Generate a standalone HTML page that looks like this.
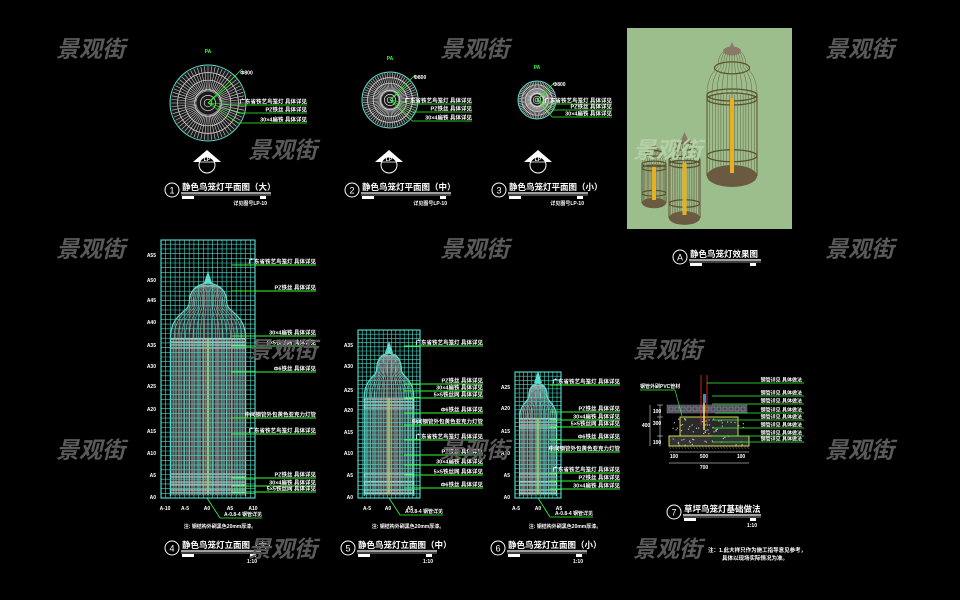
<!DOCTYPE html>
<html><head><meta charset="utf-8"><style>
html,body{margin:0;padding:0;background:#000;width:960px;height:600px;overflow:hidden}
svg{display:block}
text{font-family:"Liberation Sans","Noto Sans CJK SC",sans-serif}
</style></head><body>
<svg id="s" width="960" height="600" xmlns="http://www.w3.org/2000/svg">
<rect width="960" height="600" fill="#000"/>
<rect x="627" y="28" width="165" height="201" fill="#9cbd8c"/>
<g id="photo"></g>
<g id="g"></g>
<g id="wm" fill="#5a5a5a" font-size="23" font-weight="bold" font-style="italic"></g>
</svg>
<script>
const NS="http://www.w3.org/2000/svg";
const G=document.getElementById('g');
function el(t,a,p){const e=document.createElementNS(NS,t);for(const k in a)e.setAttribute(k,a[k]);(p||G).appendChild(e);return e;}
function line(x1,y1,x2,y2,c,w,p){return el('line',{x1,y1,x2,y2,stroke:c,'stroke-width':w||0.6},p);}
function txt(x,y,s,sz,c,anchor,p){const e=el('text',{x,y,'font-size':sz,fill:c,'text-anchor':anchor||'start','font-weight':'bold'},p);e.textContent=s;return e;}

function plan(cx,cy,r,lx,lys){
  el('circle',{cx,cy,r,fill:'#1a1a1a',stroke:'#5fe0d0','stroke-width':1});
  for(let i=0;i<64;i++){const a=i*Math.PI/32;
    line(cx+r*0.3*Math.cos(a),cy+r*0.3*Math.sin(a),cx+r*0.97*Math.cos(a),cy+r*0.97*Math.sin(a),'#d0d0d0',0.6);}
  [0.8,0.6,0.35,0.2,0.1].forEach(f=>el('circle',{cx,cy,r:r*f,fill:'none',stroke:'#ddd','stroke-width':0.7}));
  line(cx,cy,cx+r*0.9,cy-r*0.9,'#3f3',0.7);
  line(cx,cy,cx+r*0.6,cy-r*0.5,'#3f3',0.7);
  txt(cx+r*0.85,cy-r*0.75,'Φ800',5,'#fff');
  txt(cx,cy-r-12,'PA',5,'#3f3','middle');
  lys.forEach((y,i)=>{line(cx,cy,cx+r*0.8,y,'#3f3',0.6);line(cx+r*0.8,y,lx,y,'#3f3',0.8);
    txt(lx,y-1.5,['广东省铁艺鸟笼灯 具体详见','PZ铁丝 具体详见','30×4扁铁 具体详见'][i],5.5,'#fff','end');});
}
plan(208,103,38,307,[105,113,123]);
plan(390,100,28,472,[104,112,121]);
plan(537,100,19,612,[104,110,117]);

function planTitle(cx,ty){
  el('polygon',{points:`${cx-14},${ty} ${cx},${ty-12} ${cx+14},${ty}`,fill:'#fff'});
  el('circle',{cx,cy:ty+3,r:8,fill:'#000',stroke:'#fff','stroke-width':1});
  line(cx-8,ty,cx+8,ty,'#fff',0.8);
  txt(cx,ty-1,'LP',5,'#fff','middle');
}
planTitle(207,162);planTitle(389,162);planTitle(538,162);

function title(cx,cy,n,t,w,sc){
  el('circle',{cx,cy,r:7,fill:'none',stroke:'#fff','stroke-width':1});
  txt(cx,cy+3.5,n,9,'#fff','middle').setAttribute('font-weight','normal');
  txt(cx+10,cy,t,8.5,'#fff');
  line(cx+9,cy+3,cx+9+w,cy+3,'#fff',1.2);
  line(cx+9,cy+5,cx+9+w,cy+5,'#fff',0.5);
  el('rect',{x:cx+10,y:cy+6,width:12,height:3,fill:'#fff'});
  el('rect',{x:cx+w-2,y:cy+6,width:6,height:3,fill:'#fff'});
  if(sc) txt(cx+w+5,cy+15,sc,5,'#fff','end');
}
title(172,190,'1','静色鸟笼灯平面图（大）',90,'详见图号LP-10');
title(352,190,'2','静色鸟笼灯平面图（中）',90,'详见图号LP-10');
title(499,190,'3','静色鸟笼灯平面图（小）',80,'详见图号LP-10');
title(680,257,'A','静色鸟笼灯效果图',72);

function elev(x0,y0,x1,y1,st,domeY,bodyY,labX,labs,axisLabels){
  const cx=(x0+x1)/2;const w=(x1-x0);
  const bx0=x0+w*0.1,bx1=x1-w*0.1;
  const h=bodyY-domeY;
  const sx0=cx-w*0.2, sx1=cx+w*0.2, sy=domeY+h*0.35;
  el('path',{d:`M${bx0},${y1-2} L${bx0},${bodyY} C${bx0},${sy+h*0.2} ${sx0},${sy+h*0.15} ${sx0},${sy} Q${sx0},${domeY} ${cx},${domeY-2} Q${sx1},${domeY} ${sx1},${sy} C${sx1},${sy+h*0.15} ${bx1},${sy+h*0.2} ${bx1},${bodyY} L${bx1},${y1-2} Z`,fill:'#2c2c2c',stroke:'none'});
  for(let x=bx0;x<=bx1;x+=1.6){line(x,bodyY,x,y1-3,'#bdbdbd',0.5);}
  for(let i=0;i<=20;i++){const f=i/20;const xb=bx0+(bx1-bx0)*f;const xs=sx0+(sx1-sx0)*f;const xt=cx-3+6*f;
    el('path',{d:`M${xb},${bodyY} C${xb},${sy+h*0.2} ${xs},${sy+h*0.15} ${xs},${sy} Q${xs},${domeY+2} ${xt},${domeY}`,fill:'none',stroke:'#bdbdbd','stroke-width':0.5});}
  el('path',{d:`M${bx0},${y1-2} L${bx0},${bodyY} C${bx0},${sy+h*0.2} ${sx0},${sy+h*0.15} ${sx0},${sy} Q${sx0},${domeY} ${cx},${domeY-2} Q${sx1},${domeY} ${sx1},${sy} C${sx1},${sy+h*0.15} ${bx1},${sy+h*0.2} ${bx1},${bodyY} L${bx1},${y1-2}`,fill:'none',stroke:'#5fe0d0','stroke-width':1.2});
  el('polygon',{points:`${cx},${domeY-14} ${cx-4},${domeY-2} ${cx+4},${domeY-2}`,fill:'#5fe0d0'});
  [bodyY+3,bodyY+9,y1-22,y1-14,y1-6].forEach(y=>el('rect',{x:bx0,y:y-2,width:bx1-bx0,height:3,fill:'none',stroke:'#ddd','stroke-width':0.9}));
  el('rect',{x:cx-1.5,y:bodyY,width:3,height:y1-bodyY-4,fill:'#c8c860',opacity:0.7});
  for(let x=x0;x<=x1+0.1;x+=st)line(x,y0,x,y1,'#48d8c8',0.6);
  for(let y=y1;y>=y0-0.1;y-=st)line(x0,y,x1,y,'#48d8c8',0.6);
  el('rect',{x:x0,y:y0,width:x1-x0,height:y1-y0,fill:'none',stroke:'#5fe',"stroke-width":1});
  const names=['广东省铁艺鸟笼灯 具体详见','PZ铁丝 具体详见','30×4扁铁 具体详见','5×5铁丝网 具体详见','Φ6铁丝 具体详见','中间钢管外包黄色亚克力灯管'];
  labs.forEach((y,i)=>{line(cx+w*0.25,y,labX,y,'#3f3',0.9);txt(labX,y-1.5,names[i%names.length],5.5,'#fff','end');});
  axisLabels.forEach(([t,y])=>txt(x0-5,y+2,t,5,'#fff','end'));
}
elev(161,240,255,498,4.7,285,338,316,[265,291,336,346,372,418,434,478,486,492],
 [['A55',255],['A50',280],['A45',300],['A40',322],['A35',345],['A30',366],['A25',386],['A20',409],['A15',431],['A10',453],['A5',475],['A0',497]]);
[['A-10',165],['A-5',185],['A0',207],['A5',230],['A10',253]].forEach(([t,x])=>txt(x,510,t,5,'#fff','middle'));
line(207,498,220,518,'#3f3',0.8);line(220,518,262,518,'#3f3',0.8);txt(262,516,'A-0.8-4 钢管详见',5,'#fff','end');
txt(220,528,'注: 钢结构外刷黑色20mm厚漆。',5,'#fff','middle');
title(172,548,'4','静色鸟笼灯立面图（大）',80,'1:10');

elev(358,330,420,498,4.2,355,398,483,[346,384,391,398,413,425,440,455,465,475,488],
 [['A35',345],['A30',366],['A25',390],['A20',410],['A15',432],['A10',453],['A5',475],['A0',497]]);
[['A-5',367],['A0',388],['A5',410]].forEach(([t,x])=>txt(x,510,t,5,'#fff','middle'));
line(389,498,400,515,'#3f3',0.8);line(400,515,443,515,'#3f3',0.8);txt(443,513,'A-0.8-4 钢管详见',5,'#fff','end');
txt(408,528,'注: 钢结构外刷黑色20mm厚漆。',5,'#fff','middle');
title(348,548,'5','静色鸟笼灯立面图（中）',80,'1:10');

elev(515,372,561,498,4.2,385,418,620,[385,412,420,427,440,452,473,481,489],
 [['A25',387],['A20',408],['A15',431],['A10',453],['A5',475],['A0',497]]);
[['A-5',516],['A0',538],['A5',559]].forEach(([t,x])=>txt(x,510,t,5,'#fff','middle'));
line(538,498,550,517,'#3f3',0.8);line(550,517,593,517,'#3f3',0.8);txt(593,515,'A-0.8-4 钢管详见',5,'#fff','end');
txt(565,528,'注: 钢结构外刷黑色20mm厚漆。',5,'#fff','middle');
title(498,548,'6','静色鸟笼灯立面图（小）',80,'1:10');

(function(){
  el('rect',{x:667,y:405,width:80,height:8,fill:'#4a4a5a',stroke:'#888','stroke-width':0.5});
  for(let x=669;x<745;x+=6)el('rect',{x,y:407,width:4,height:4,fill:'none',stroke:'#bbb','stroke-width':0.4});
  el('rect',{x:680,y:417,width:58,height:20,fill:'#2a2a2a',stroke:'#ee5','stroke-width':0.9});
  el('rect',{x:669,y:436,width:80,height:10,fill:'#333',stroke:'#ee5','stroke-width':0.9});
  let seed=7;const rnd=()=>{seed=(seed*9301+49297)%233280;return seed/233280;};
  for(let i=0;i<70;i++)el('rect',{x:672+rnd()*74,y:418+rnd()*27,width:1.2,height:1.2,fill:'#bbb'});
  for(let x=669;x<749;x+=3)line(x,446,x+2,449,'#aaa',0.4);
  line(701,375,701,425,'#e33',0.8);line(707,375,707,425,'#e33',0.8);
  el('rect',{x:703,y:394,width:3,height:9,fill:'#48c'});
  line(704,403,704,430,'#ee5',1.5);
  [[383,707],[396,712],[404,712],[413,715],[420,712],[428,712],[436,712],[442,712]].forEach(([y,x])=>{line(x,y,804,y,'#3f3',0.8);txt(802,y-1.5,'钢管详见 具体做法',5,'#fff','end');});
  line(640,390,675,390,'#3f3',0.8);txt(640,388,'钢管外刷PVC管材',5,'#fff');line(675,390,682,416,'#3f3',0.6);
  line(650,405,650,446,'#fff',0.5);line(660,405,660,446,'#fff',0.5);
  txt(646,427,'400',5,'#fff','middle');
  [[405,'100'],[417,'300'],[436,'100']].forEach(([y,t])=>{line(657,y,663,y,'#fff',0.5);txt(657,y+8,t,5,'#fff','middle');});
  line(669,452,749,452,'#fff',0.5);line(669,463,749,463,'#fff',0.5);
  [['100',674],['500',704],['100',741]].forEach(([t,x])=>txt(x,458,t,5,'#fff','middle'));
  txt(704,469,'700',5,'#fff','middle');
  title(674,512,'7','草坪鸟笼灯基础做法',78,'1:10');
  txt(708,552,'注：1.此大样只作为施工指导意见参考，',5.5,'#fff');
  txt(722,560,'具体以现场实际情况为准。',5.5,'#fff');
})();

(function(){
  const P=document.getElementById('photo');
  function cage(x0,x1,yt,yb,bodyY){
    const cx=(x0+x1)/2,w=x1-x0;
    el('ellipse',{cx,cy:yb,rx:w/2,ry:w*0.22,fill:'#6b5a42'},P);
    for(let x=x0;x<=x1;x+=w/18)line(x,bodyY,x,yb,'#6b6040',0.5,P);
    const sy=yt+(bodyY-yt)*0.45;
    for(let i=0;i<=10;i++){const f=i/10;const xb=x0+w*f,xs=cx-w*0.28+w*0.56*f;
      el('path',{d:`M${xb},${bodyY} C${xb},${sy+6} ${xs},${sy+4} ${xs},${sy} Q${xs},${yt+8} ${cx},${yt+6}`,fill:'none',stroke:'#6b6040','stroke-width':0.5},P);}
    el('ellipse',{cx,cy:yt+9,rx:w*0.18,ry:w*0.09,fill:'#8a7868'},P);
    el('path',{d:`M${cx-3},${yt+7} L${cx},${yt} L${cx+3},${yt+7} Z`,fill:'#8a7868'},P);
    [sy+2,bodyY,bodyY+4,(bodyY+yb)/2+(yb-bodyY)*0.25].forEach(y=>el('ellipse',{cx,cy:y,rx:(y<bodyY?w*0.35:w/2),ry:w*0.12,fill:'none',stroke:'#5a5030','stroke-width':1.2},P));
    el('rect',{x:cx-2,y:bodyY+3,width:4,height:yb-bodyY-6,fill:'#e8b020'},P);
    line(x0,bodyY,x0,yb,'#5a5030',1,P);line(x1,bodyY,x1,yb,'#5a5030',1,P);
  }
  cage(707,757,42,176,95);
  cage(669,700,132,218,160);
  cage(642,666,141,203,164);
})();

const W=document.getElementById('wm');
[[56,57],[440,57],[825,57],[248,158],[56,257],[440,257],[825,257],[248,358],[633,358],[56,458],[440,458],[825,458],[248,557],[633,557]].forEach(([x,y])=>{
  const t=document.createElementNS(NS,'text');t.setAttribute('x',x);t.setAttribute('y',y);t.textContent='景观街';W.appendChild(t);});
const t2=document.createElementNS(NS,'text');t2.setAttribute('x',633);t2.setAttribute('y',158);t2.setAttribute('fill','#b5cfa8');t2.textContent='景观街';W.appendChild(t2);
</script>
</body></html>
